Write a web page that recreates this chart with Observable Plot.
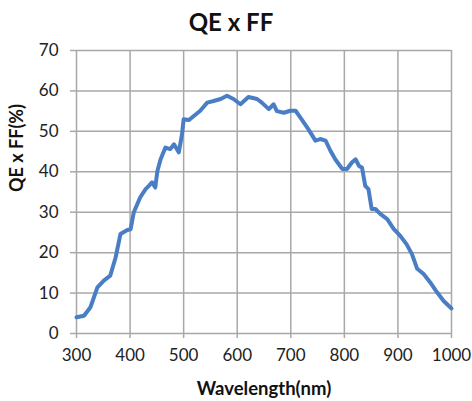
<!DOCTYPE html>
<html>
<head>
<meta charset="utf-8">
<script src="https://cdn.jsdelivr.net/npm/d3@7"></script>
<script src="https://cdn.jsdelivr.net/npm/@observablehq/plot@0.6"></script>
<style>
  html, body { margin: 0; padding: 0; background: #fff; }
  #chart svg { display: block; }
</style>
</head>
<body>
<div id="chart"></div>
<script>
const title = "QE x FF";
const xLabel = "Wavelength(nm)";
const yLabel = "QE x FF(%)";
const xTicks = [300, 400, 500, 600, 700, 800, 900, 1000];
const yTicks = [0, 10, 20, 30, 40, 50, 60, 70];

const wavelength = [300, 314, 326, 339, 351, 363, 373, 382, 395, 401, 407, 419, 429, 435, 441, 447, 451, 457, 466, 475, 482, 491, 497, 500, 510, 519, 531, 544, 556, 569, 581, 593, 606, 621, 637, 646, 659, 668, 674, 687, 699, 709, 718, 733, 746, 755, 765, 774, 783, 796, 805, 814, 821, 827, 833, 839, 845, 851, 858, 867, 880, 892, 904, 916, 926, 936, 948, 960, 973, 985, 1000];
const qeff = [4.0, 4.4, 6.5, 11.4, 13.1, 14.3, 18.8, 24.6, 25.6, 25.8, 30.0, 33.7, 35.7, 36.5, 37.4, 36.1, 40.2, 43.1, 46.0, 45.6, 46.8, 44.8, 49.3, 53.0, 52.8, 53.8, 55.1, 57.1, 57.5, 58.0, 58.8, 58.0, 56.7, 58.5, 58.0, 57.1, 55.5, 56.7, 55.0, 54.6, 55.1, 55.1, 53.4, 50.5, 47.7, 48.1, 47.7, 45.2, 43.1, 40.7, 40.7, 42.3, 43.1, 41.5, 41.0, 36.5, 35.7, 30.8, 30.8, 29.6, 28.3, 25.9, 24.2, 22.1, 19.7, 16.0, 14.7, 12.7, 10.2, 8.1, 6.2];

const data = wavelength.map((w, i) => ({w, v: qeff[i]}));
const grid = "#a8a8a8";
const font = "Lato, 'Open Sans', sans-serif";

const chart = Plot.plot({
  width: 472,
  height: 401,
  marginLeft: 76,
  marginRight: 21,
  marginTop: 50,
  marginBottom: 68,
  style: {fontFamily: font, background: "#fff", color: "#222"},
  x: {domain: [300, 1000], ticks: xTicks, label: null},
  y: {domain: [0, 70], ticks: yTicks, label: null},
  marks: [
    Plot.gridX(xTicks, {stroke: grid, strokeOpacity: 1, strokeWidth: 1.5}),
    Plot.gridY(yTicks, {stroke: grid, strokeOpacity: 1, strokeWidth: 1.5}),
    Plot.axisX(xTicks, {tickSize: 5, tickPadding: 10, stroke: grid, strokeWidth: 1.5, fontSize: 17, fill: "#222", tickFormat: d => String(d), label: null}),
    Plot.axisY(yTicks, {tickSize: 6, tickPadding: 12, stroke: grid, strokeWidth: 1.5, fontSize: 17, fill: "#222", tickFormat: d => String(d), label: null}),
    Plot.lineY(data, {x: "w", y: "v", stroke: "#4a7ec4", strokeWidth: 4, strokeLinejoin: "round", strokeLinecap: "round"}),
    Plot.text([title], {frameAnchor: "top", dx: -33, dy: -37, fontSize: 24, fontWeight: "bold", fill: "#111"}),
    Plot.text([xLabel], {frameAnchor: "bottom", dy: 61, fontSize: 18.5, fontWeight: "bold", fill: "#111"}),
    Plot.text([yLabel], {frameAnchor: "left", dx: -59, rotate: -90, fontSize: 18, fontWeight: "bold", fill: "#111"})
  ]
});
document.getElementById("chart").append(chart);
</script>
</body>
</html>
